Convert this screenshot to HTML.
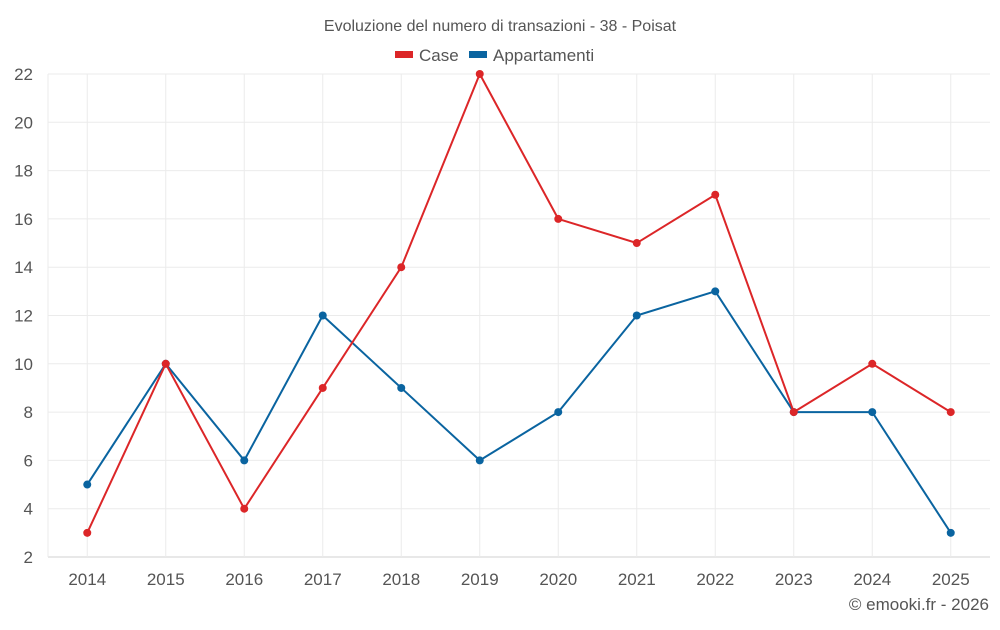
<!DOCTYPE html>
<html><head><meta charset="utf-8"><style>
body{margin:0;background:#fff;font-family:"Liberation Sans",sans-serif;}
svg text{font-family:"Liberation Sans",sans-serif;fill:#555;}
</style></head><body>
<svg id="chart" width="1000" height="625" xmlns="http://www.w3.org/2000/svg">
<text x="500" y="31" text-anchor="middle" font-size="16">Evoluzione del numero di transazioni - 38 - Poisat</text>
<g>
<g><rect x="395" y="51" width="18" height="7" fill="#dc2628"/><text x="419" y="61" font-size="17">Case</text></g>
<g><rect x="469" y="51" width="18" height="7" fill="#0a64a0"/><text x="493" y="61" font-size="17">Appartamenti</text></g>
</g>
<g id="grid"></g><g id="axes"></g><g id="series"></g>
<text x="989" y="610" text-anchor="end" font-size="17">© emooki.fr - 2026</text>
</svg>
<script>
const years=["2014","2015","2016","2017","2018","2019","2020","2021","2022","2023","2024","2025"];
const caseValues=[3,10,4,9,14,22,16,15,17,8,10,8];
const appValues=[5,10,6,12,9,6,8,12,13,8,8,3];
const yTicks=[2,4,6,8,10,12,14,16,18,20,22];
const NS="http://www.w3.org/2000/svg";
const L=48,R=990,T=74,B=557,yMin=2,yMax=22;
const bw=(R-L)/years.length;
const x=i=>L+bw*(i+0.5);
const y=v=>B-(v-yMin)/(yMax-yMin)*(B-T);
function mk(tag,attrs,parent){const e=document.createElementNS(NS,tag);for(const k in attrs)e.setAttribute(k,attrs[k]);parent.appendChild(e);return e;}
const grid=document.getElementById('grid'),axes=document.getElementById('axes'),ser=document.getElementById('series');
yTicks.forEach(t=>{
 const ln=mk('line',{x1:L,x2:R,y1:y(t),y2:y(t),stroke:t===yMin?'#d0d0d0':'#ebebeb'},grid);
 
 
 const tx=mk('text',{x:33,y:y(t)+6,'text-anchor':'end','font-size':17},axes);
 tx.textContent=t;
 
 
});
const la=mk('line',{x1:L,x2:L,y1:T,y2:B,stroke:'#ebebeb'},grid);


years.forEach((yr,i)=>{
 const ln=mk('line',{x1:x(i),x2:x(i),y1:T,y2:B,stroke:'#ebebeb'},grid);
 
 
 const tx=mk('text',{x:x(i),y:585,'text-anchor':'middle','font-size':17},axes);
 tx.textContent=yr;
 
 
});
function draw(vals,color,name){
 const p=mk('polyline',{points:vals.map((v,i)=>x(i)+','+y(v)).join(' '),fill:'none',stroke:color,'stroke-width':2},ser);
 
 
 vals.forEach((v,i)=>{
  const c=mk('circle',{cx:x(i),cy:y(v),r:4,fill:color},ser);
  
  
 });
}
draw(appValues,'#0a64a0','appartamenti');
draw(caseValues,'#dc2628','case');
</script>
</body></html>
